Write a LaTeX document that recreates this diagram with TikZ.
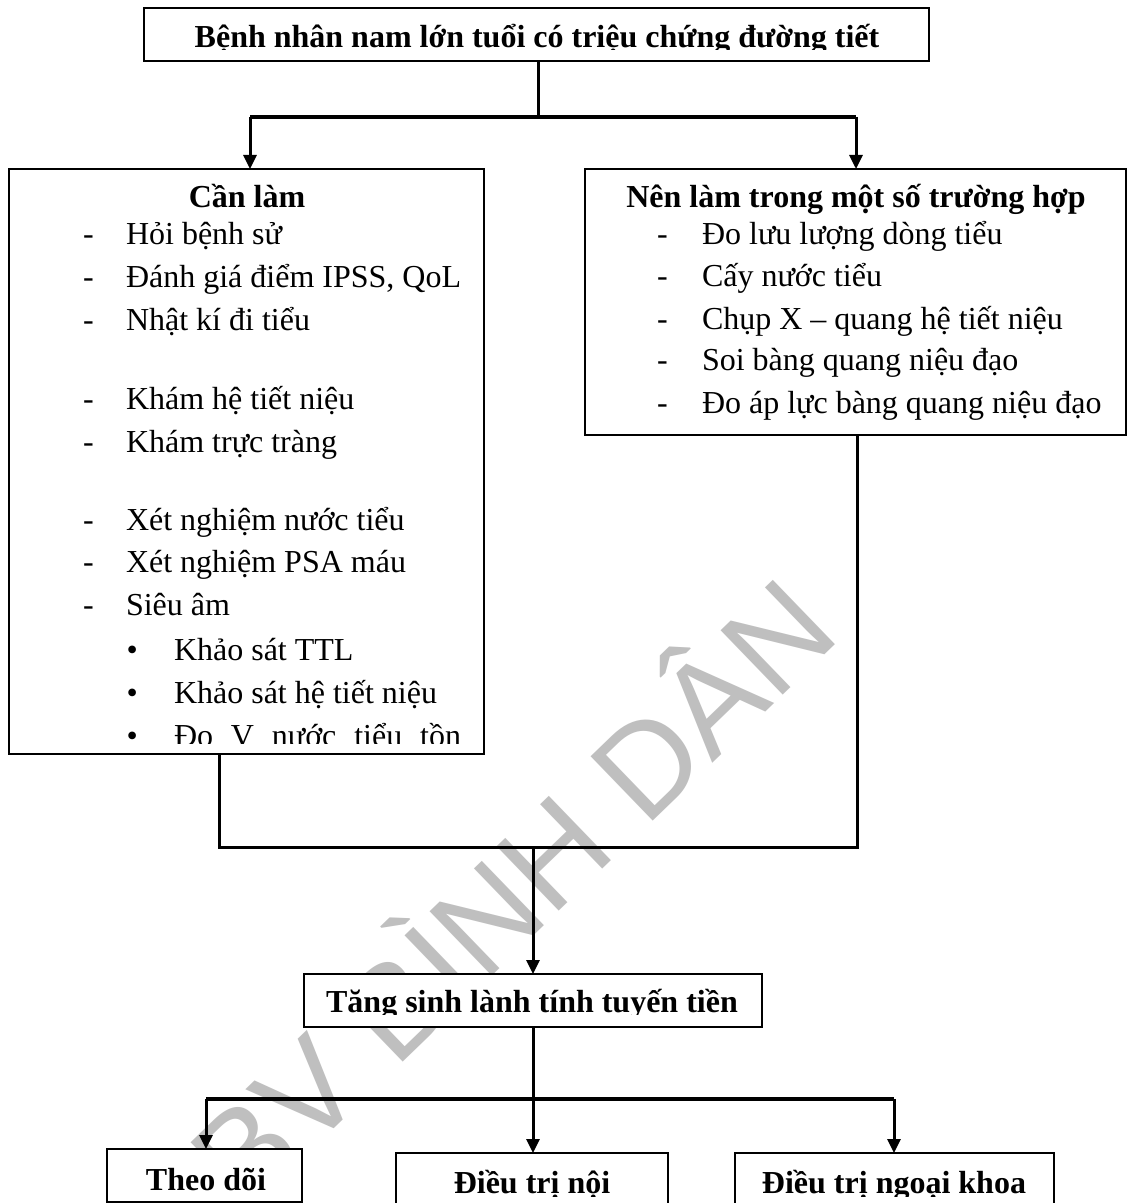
\documentclass[tikz,border=0pt]{standalone}
\usepackage{fontspec}
\setmainfont{Liberation Serif}
\newfontfamily\wmfont{Liberation Sans}
\usetikzlibrary{arrows.meta}
\tikzset{
  boxst/.style={draw, line width=0.7pt, fill=white, rectangle, inner sep=0pt, outer sep=0pt},
  txt/.style={inner sep=0pt, outer sep=0pt, font=\fontsize{16pt}{21pt}\selectfont},
  btxt/.style={inner sep=0pt, outer sep=0pt, font=\fontsize{16pt}{21pt}\selectfont\bfseries},
  conn/.style={line width=1.5pt, line join=miter},
  barst/.style={line width=1.7pt, line join=miter},
  arr/.style={line width=1.5pt, -{Triangle[length=7pt,width=6.5pt]}},
  wm/.style={inner sep=0pt, text=black!25, font=\fontsize{65pt}{65pt}\wmfont, rotate=44, anchor=base}
}
\begin{document}
\begin{tikzpicture}[x=0.5pt,y=-0.5pt]
\useasboundingbox (0,0) rectangle (1128,1203);
\fill[white] (0,0) rectangle (1128,1203);
% watermark
\node[wm] (wmark) at (544,926) {BV BÌNH DÂN};
% boxes
\node[boxst, minimum width=392.5pt, minimum height=26.5pt] (top) at (536.5,34.5) {};
\node[boxst, minimum width=237.5pt, minimum height=292.5pt] (left) at (246.5,461.5) {};
\node[boxst, minimum width=270.5pt, minimum height=133pt] (right) at (855.5,302) {};
\node[boxst, minimum width=229pt, minimum height=26.5pt] (tang) at (533,1000.5) {};
\node[boxst, minimum width=97.5pt, minimum height=26.5pt] (theo) at (204.5,1175.5) {};
\node[boxst, minimum width=136pt, minimum height=31pt] (noi) at (532,1184) {};
\node[boxst, minimum width=159.5pt, minimum height=31pt] (ngoai) at (894.5,1184) {};
% top text
\begin{scope}
\clip (144,8) rectangle (929,50);
\node[btxt, anchor=base] (toptext) at (537,48) {Bệnh nhân nam lớn tuổi có triệu chứng đường tiết};
\end{scope}
% left box text
\begin{scope}
\clip (9,169) rectangle (484,743);
\node[btxt, anchor=base] (lt) at (247,208) {Cần làm};
\node[txt, anchor=base west] (ld1) at (83,245) {-};
\node[txt, anchor=base west] (li1) at (126,245) {Hỏi bệnh sử};
\node[txt, anchor=base west] (ld2) at (83,288) {-};
\node[txt, anchor=base west] (li2) at (126,288) {Đánh giá điểm IPSS, QoL};
\node[txt, anchor=base west] (ld3) at (83,330) {-};
\node[txt, anchor=base west] (li3) at (126,330) {Nhật kí đi tiểu};
\node[txt, anchor=base west] (ld4) at (83,409) {-};
\node[txt, anchor=base west] (li4) at (126,409) {Khám hệ tiết niệu};
\node[txt, anchor=base west] (ld5) at (83,452) {-};
\node[txt, anchor=base west] (li5) at (126,452) {Khám trực tràng};
\node[txt, anchor=base west] (ld6) at (83,530) {-};
\node[txt, anchor=base west] (li6) at (126,530) {Xét nghiệm nước tiểu};
\node[txt, anchor=base west] (ld7) at (83,572) {-};
\node[txt, anchor=base west] (li7) at (126,572) {Xét nghiệm PSA máu};
\node[txt, anchor=base west] (ld8) at (83,615) {-};
\node[txt, anchor=base west] (li8) at (126,615) {Siêu âm};
\node[txt, anchor=base west] (lb1) at (126.5,660) {•};
\node[txt, anchor=base west] (lj1) at (174,660) {Khảo sát TTL};
\node[txt, anchor=base west] (lb2) at (126.5,703) {•};
\node[txt, anchor=base west] (lj2) at (174,703) {Khảo sát hệ tiết niệu};
\node[txt, anchor=base west] (lb3) at (126.5,746) {•};
\node[txt, anchor=base west] (lj3) at (174,746) {\makebox[143.5pt][s]{Đo V nước tiểu tồn}};
\end{scope}
% right box text
\node[btxt, anchor=base] (rt) at (856,208) {Nên làm trong một số trường hợp};
\node[txt, anchor=base west] (rd1) at (657,245) {-};
\node[txt, anchor=base west] (ri1) at (702,245) {Đo lưu lượng dòng tiểu};
\node[txt, anchor=base west] (rd2) at (657,287) {-};
\node[txt, anchor=base west] (ri2) at (702,287) {Cấy nước tiểu};
\node[txt, anchor=base west] (rd3) at (657,329) {-};
\node[txt, anchor=base west] (ri3) at (702,329) {Chụp X – quang hệ tiết niệu};
\node[txt, anchor=base west] (rd4) at (657,371) {-};
\node[txt, anchor=base west] (ri4) at (702,371) {Soi bàng quang niệu đạo};
\node[txt, anchor=base west] (rd5) at (657,413) {-};
\node[txt, anchor=base west] (ri5) at (702,413) {Đo áp lực bàng quang niệu đạo};
% tang text
\begin{scope}
\clip (304,974) rectangle (762,1014);
\node[btxt, anchor=base] (tangtext) at (532,1012) {Tăng sinh lành tính tuyến tiền};
\end{scope}
% bottom texts
\node[btxt, anchor=base] (theotext) at (206,1190) {Theo dõi};
\begin{scope}
\clip (396,1153) rectangle (1054,1196);
\node[btxt, anchor=base] (noitext) at (532,1193) {Điều trị nội};
\node[btxt, anchor=base] (ngoaitext) at (894,1193) {Điều trị ngoại khoa};
\end{scope}
% connectors
\coordinate (ja) at (538,117);
\coordinate (jal) at (250,117);
\coordinate (jar) at (856,117);
\draw[conn] (top.south -| ja) -- (ja);
\draw[barst] (jal) -- (jar);
\draw[arr] (jal) -- (jal |- left.north);
\draw[arr] (jar) -- (jar |- right.north);
\coordinate (jbl) at (219,847);
\coordinate (jbr) at (857,847);
\coordinate (jbm) at (533,847);
\draw[conn] (left.south -| jbl) -- (jbl) -- (jbr) -- (right.south -| jbr);
\draw[arr] (jbm) -- (tang.north);
\coordinate (jc) at (533,1099);
\coordinate (jcl) at (206,1099);
\coordinate (jcr) at (894,1099);
\draw[conn] (tang.south) -- (jc);
\draw[barst] (jcl) -- (jcr);
\draw[arr] (jcl) -- (jcl |- theo.north);
\draw[arr] (jc) -- (jc |- noi.north);
\draw[arr] (jcr) -- (jcr |- ngoai.north);
\end{tikzpicture}
\end{document}
